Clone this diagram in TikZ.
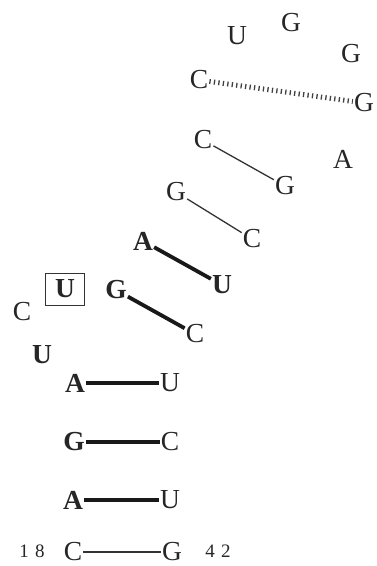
\documentclass[tikz,border=0pt]{standalone}
\usepackage{fontspec}
\setmainfont{Liberation Serif}
\begin{document}
\begin{tikzpicture}[x=1pt,y=-1pt,
  base/.style={inner sep=1pt,font=\fontsize{27.5}{27.5}\selectfont,text=black!85},
  bb/.style={base,font=\fontsize{27.5}{27.5}\selectfont\bfseries},
  num/.style={inner sep=0pt,font=\fontsize{19}{19}\selectfont,text=black!85},
  thin/.style={line width=1.3pt,black!80},
  thick/.style={line width=3.8pt,black!90},
  dotbond/.style={line width=5pt,black!75,dash pattern=on 1.3pt off 3.2pt}]
\useasboundingbox (0,0) rectangle (377,566);
% loop
\node[base] (u1) at (237,36) {U};
\node[base] (g1) at (291,23) {G};
\node[base] (g2) at (351,54) {G};
\node[base] (c1) at (199,80) {C};
\node[base] (g3) at (364,103) {G};
\node[base] (c2) at (203,140) {C};
\node[base] (g4) at (285,186) {G};
\node[base] (a1) at (343,159) {A};
\node[base] (g5) at (176,192) {G};
\node[base] (c3) at (252,239) {C};
\node[bb] (a2) at (143,241) {A};
\node[bb] (u2) at (222,285) {U};
\node[bb,draw=black!80,line width=1pt,minimum width=39pt,minimum height=32pt] (u3) at (65,289) {U};
\node[bb] (g6) at (116,290) {G};
\node[base] (c4) at (195,334) {C};
\node[base] (c5) at (22,312) {C};
\node[bb] (u4) at (42,355) {U};
\node[bb] (a3) at (75,383) {A};
\node[base] (u5) at (170,383) {U};
\node[bb] (g7) at (74,442) {G};
\node[base] (c6) at (170,442) {C};
\node[bb] (a4) at (73,500) {A};
\node[base] (u6) at (170,500) {U};
\node[num] (n18) at (32,551) {1\,\,8};
\node[base] (c7) at (73,552) {C};
\node[base] (g8) at (172,552) {G};
\node[num] (n42) at (218,551) {4\,\,2};
% bonds
\draw[dotbond] (c1) -- (g3);
\draw[thin] (c2) -- (g4);
\draw[thin] (g5) -- (c3);
\draw[thick] (a2) -- (u2);
\draw[thick] (g6) -- (c4);
\draw[thick] (a3) -- (u5);
\draw[thick] (g7) -- (c6);
\draw[thick] (a4) -- (u6);
\draw[thin] (c7) -- (g8);
\end{tikzpicture}
\end{document}
